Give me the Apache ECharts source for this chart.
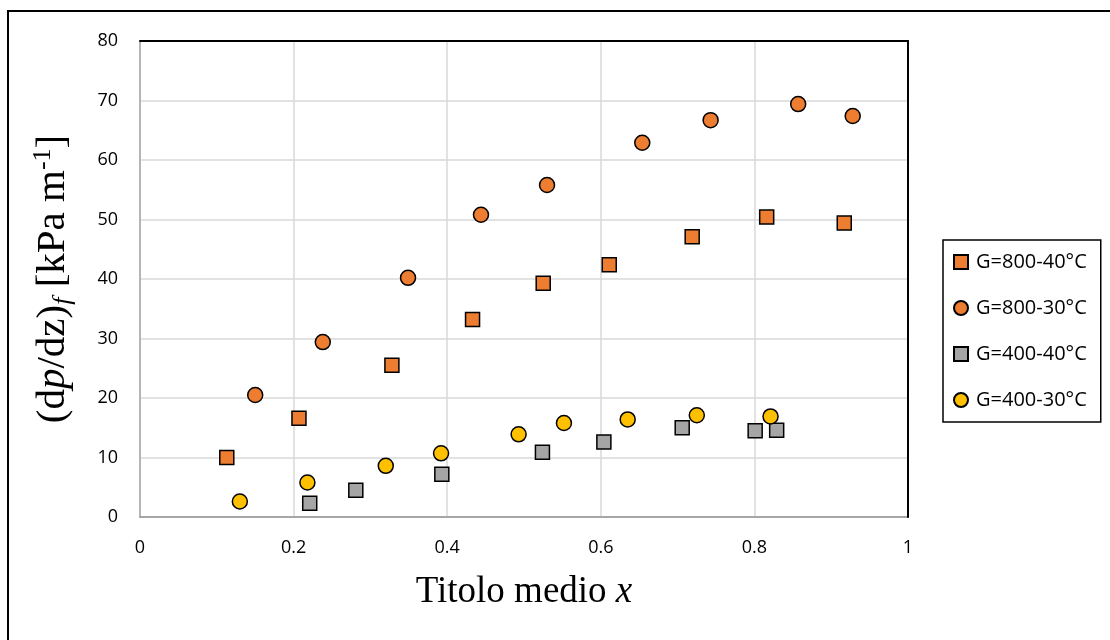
<!DOCTYPE html>
<html>
<head>
<meta charset="utf-8">
<script src="https://cdn.jsdelivr.net/npm/echarts@6/dist/echarts.min.js"></script>
<style>
  html, body { margin: 0; padding: 0; background: #fff; }
  #chart { width: 1110px; height: 640px; }
</style>
</head>
<body>
<div id="chart"></div>
<script>
// values, [x, (dp/dz)f]
const g800_40 = [
  [0.113, 10.0], [0.207, 16.6], [0.328, 25.5], [0.433, 33.2], [0.525, 39.3],
  [0.611, 42.4], [0.719, 47.1], [0.816, 50.4], [0.917, 49.4]
];
const g800_30 = [
  [0.150, 20.5], [0.238, 29.4], [0.349, 40.2], [0.444, 50.8], [0.530, 55.8],
  [0.654, 62.9], [0.743, 66.7], [0.857, 69.4], [0.928, 67.4]
];
const g400_40 = [
  [0.221, 2.3], [0.281, 4.5], [0.393, 7.2], [0.524, 10.9], [0.604, 12.6],
  [0.706, 15.0], [0.801, 14.5], [0.829, 14.6]
];
const g400_30 = [
  [0.130, 2.6], [0.218, 5.8], [0.320, 8.6], [0.392, 10.7], [0.493, 13.9],
  [0.552, 15.8], [0.635, 16.4], [0.725, 17.1], [0.821, 16.9]
];
const seriesNames = ["G=800-40°C", "G=800-30°C", "G=400-40°C", "G=400-30°C"];

const tickFont = "Open Sans";
const serif = "Liberation Serif";

const chart = echarts.init(document.getElementById("chart"));

function scatter(name, data, symbol, color) {
  return {
    name: name,
    type: "scatter",
    data: data,
    symbol: symbol,
    symbolSize: symbol === "rect" ? 14 : 15,
    itemStyle: {
      color: color,
      borderColor: "#000",
      borderWidth: 1.5,
      opacity: 1,
    },
    emphasis: { disabled: true },
  };
}

// black frame on the top and right of the plot
const frameAxis = {
  type: "value",
  z: 5,
  axisLine: { show: true, onZero: false, lineStyle: { color: "#000", width: 2 } },
  axisTick: { show: false },
  axisLabel: { show: false },
  splitLine: { show: false },
};

chart.setOption({
  animation: false,
  backgroundColor: "#fff",
  graphic: [
    {
      type: "rect",
      shape: { x: 8, y: 11, width: 1200, height: 700 },
      style: { fill: null, stroke: "#000", lineWidth: 2 },
      silent: true,
    },
  ],
  grid: {
    left: 140,
    right: 202,
    top: 41,
    bottom: 123,
  },
  legend: {
    orient: "vertical",
    left: 943,
    top: 240,
    padding: [12, 14, 12, 10],
    itemGap: 26,
    itemWidth: 14,
    itemHeight: 14,
    borderColor: "#000",
    borderWidth: 1.5,
    backgroundColor: "#fff",
    textStyle: { fontFamily: tickFont, fontSize: 20, color: "#000", padding: [0, 0, 0, 3] },
    data: seriesNames,
  },
  xAxis: [
    {
      type: "value",
      min: 0,
      max: 1,
      interval: 0.2,
      name: "{n|Titolo medio }{i|x}",
      nameLocation: "middle",
      nameGap: 57,
      nameTextStyle: {
        rich: {
          n: { fontFamily: serif, fontSize: 37, color: "#000" },
          i: { fontFamily: serif, fontSize: 37, fontStyle: "italic", color: "#000" },
        },
      },
      axisLine: { show: true, lineStyle: { color: "#a6a6a6", width: 2 } },
      axisTick: { show: false },
      axisLabel: {
        margin: 22,
        fontFamily: tickFont,
        fontSize: 18,
        color: "#000",
        formatter: (v) => String(+v.toFixed(1)),
      },
      splitLine: { show: true, lineStyle: { color: "#d9d9d9", width: 1.5 } },
    },
    Object.assign({ position: "top", min: 0, max: 1 }, frameAxis),
  ],
  yAxis: [
    {
      type: "value",
      min: 0,
      max: 80,
      interval: 10,
      name: "{n|(d}{i|p}{n|/dz)}{sub|f}{n| [kPa m}{sup|-1}{n|]}",
      nameLocation: "middle",
      nameRotate: 90,
      nameGap: 64,
      nameTextStyle: {
        rich: {
          n: { fontFamily: serif, fontSize: 41, color: "#000", lineHeight: 46 },
          i: { fontFamily: serif, fontSize: 41, fontStyle: "italic", color: "#000", lineHeight: 46 },
          sub: { fontFamily: serif, fontSize: 26, fontStyle: "italic", color: "#000", lineHeight: 46, verticalAlign: "bottom" },
          sup: { fontFamily: serif, fontSize: 26, color: "#000", lineHeight: 46, verticalAlign: "top" },
        },
      },
      axisLine: { show: true, lineStyle: { color: "#a6a6a6", width: 1.5 } },
      axisTick: { show: false },
      axisLabel: {
        margin: 22,
        fontFamily: tickFont,
        fontSize: 18,
        color: "#000",
      },
      splitLine: { show: true, lineStyle: { color: "#d9d9d9", width: 1.5 } },
    },
    Object.assign({ position: "right", min: 0, max: 80 }, frameAxis),
  ],
  series: [
    scatter(seriesNames[0], g800_40, "rect", "#ed7d31"),
    scatter(seriesNames[1], g800_30, "circle", "#ed7d31"),
    scatter(seriesNames[2], g400_40, "rect", "#a5a5a5"),
    scatter(seriesNames[3], g400_30, "circle", "#ffc000"),
  ],
});
</script>
</body>
</html>
